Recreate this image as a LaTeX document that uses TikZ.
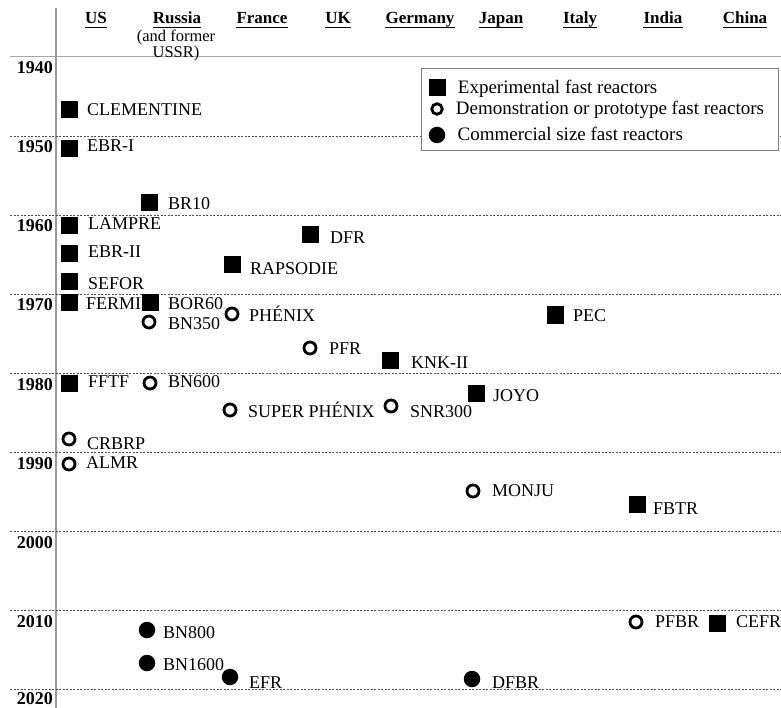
\documentclass[tikz,border=0pt]{standalone}
\usepackage{fontspec}
\setmainfont{Liberation Serif}
\usetikzlibrary{positioning}

\begin{document}
\begin{tikzpicture}
	[   x=1pt,y=-1pt,
		sqnode/.style={fill=black,minimum size=17pt,inner sep=0pt},
		ocnode/.style={circle,draw=black,line width=2.8pt,fill=white,minimum size=12pt,inner sep=0pt},
		fcnode/.style={circle,fill=black,minimum size=16.5pt,inner sep=0pt},
		lbl/.style={anchor=west,inner sep=0pt,text height=12pt,text depth=0pt,font=\fontsize{18}{18}\selectfont},
		hdr/.style={inner sep=0pt,text height=12pt,text depth=0pt,font=\fontsize{17}{17}\selectfont\bfseries},
		yrlbl/.style={anchor=east,inner sep=0pt,text height=12pt,text depth=0pt,font=\fontsize{18}{18}\selectfont\bfseries},
	]
	\tikzset{grid line/.style={draw=black!70,line width=0.9pt,dash pattern=on 2pt off 1.5pt}}
	\useasboundingbox (0,0) rectangle (781,708);
	
	\draw[gray!70,line width=1pt] (10,57) -- (781,57);
	\draw[gray!80,line width=1.2pt] (56,8) -- (56,708);
	
	\foreach \k in {0,...,8}
	{
		\pgfmathtruncatemacro\yr{1940+10*\k}
		\pgfmathsetmacro\yl{57+79*\k}
		\ifnum \k > 0
		\draw[grid line] (10,\yl) -- (781,\yl);
		\fi
		\ifnum \k = 8
		\node[yrlbl] (y-\k) at (53,{\yl+9}) {\yr};
		\else
		\node[yrlbl] (y-\k) at (53,{\yl+11}) {\yr};
		\fi
	}
	
	\foreach \cx/\cn [count=\i] in {96/US,177/Russia,262/France,338/UK,420/Germany,501/Japan,580/Italy,663/India,745/China}
	{
		\node[hdr] (h-\i) at (\cx,18) {\cn};
		\draw[line width=1.1pt] ([yshift=-3pt]h-\i.south west) -- ([yshift=-3pt]h-\i.south east);
	}
	\node[align=center,inner sep=0pt,font=\fontsize{16.5}{12}\selectfont] (sub) at (176,45) {(and former\\USSR)};
	
	% legend
	\node[draw=gray,line width=0.8pt,fill=white,minimum width=357pt,minimum height=82pt] (leg) at (599.5,109) {};
	\node[sqnode] (lg-1) at (437,88) {};
	\node[ocnode,minimum size=10.5pt] (lg-2) at (437,109) {};
	\node[fcnode] (lg-3) at (437,135) {};
	\node[lbl,font=\fontsize{19}{19}\selectfont,right=12pt of lg-1] (lt-1) {Experimental fast reactors};
	\node[lbl,font=\fontsize{19}{19}\selectfont,right=12pt of lg-2] (lt-2) {Demonstration or prototype fast reactors};
	\node[lbl,font=\fontsize{19}{19}\selectfont,right=12pt of lg-3] (lt-3) {Commercial size fast reactors};
	
	\foreach \kind/\mx/\my/\lx/\ly/\txt [count=\i] in {
		sqnode/69/110/87/110/CLEMENTINE,
		sqnode/69/149/87/146/EBR-I,
		sqnode/149/203/168/204/BR10,
		sqnode/69/226/88/224/LAMPRE,
		sqnode/310/235/330/238/DFR,
		sqnode/69/254/88/252/EBR-II,
		sqnode/232/265/250/269/RAPSODIE,
		sqnode/69/282/88/284/SEFOR,
		sqnode/69/303/86/303/FERMI,
		sqnode/150/303/168/303/BOR60,
		ocnode/149/322/168/324/BN350,
		ocnode/232/314/249/316/PHÉNIX,
		sqnode/555/315/573/315/PEC,
		ocnode/310/348/329/348/PFR,
		sqnode/390/360/411/362/KNK-II,
		sqnode/69/383/88/381/FFTF,
		ocnode/150/383/168/381/BN600,
		sqnode/476/393/493/395/JOYO,
		ocnode/230/410/248/411/SUPER PHÉNIX,
		ocnode/391/406/410/411/SNR300,
		ocnode/69/439/87/443/CRBRP,
		ocnode/69/464/86/462/ALMR,
		ocnode/473/491/492/490/MONJU,
		sqnode/637/504/653/508/FBTR,
		ocnode/636/622/655/621/PFBR,
		sqnode/717/623/736/621/CEFR,
		fcnode/147/630/163/632/BN800,
		fcnode/147/663/163/664/BN1600,
		fcnode/230/677/249/682/EFR,
		fcnode/472/679/492/682/DFBR}
	{
		\node[\kind] (r-\i) at (\mx,\my) {};
		\node[lbl] (t-\i) at (\lx,\ly) {\txt};
	}
\end{tikzpicture}
\end{document}
